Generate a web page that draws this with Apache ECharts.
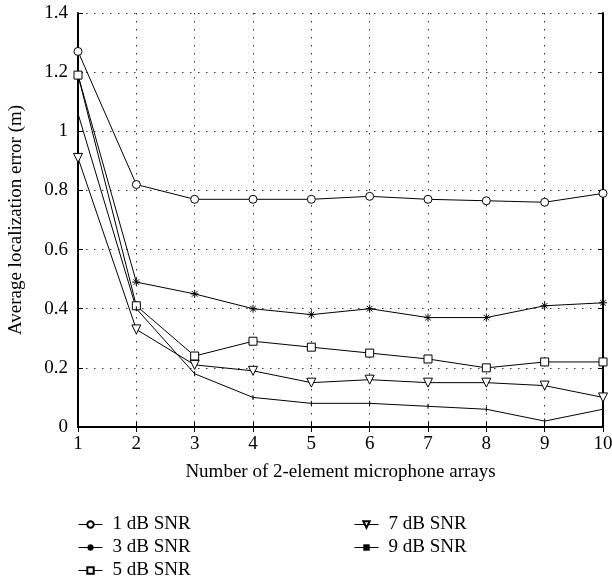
<!DOCTYPE html>
<html><head><meta charset="utf-8">
<script src="https://cdn.jsdelivr.net/npm/echarts@6/dist/echarts.min.js"></script>
<style>html,body{margin:0;padding:0;background:#fff}#c{width:612px;height:584px}</style>
</head><body><div id="c"></div>
<script>
const xValues = [1,2,3,4,5,6,7,8,9,10];
const seriesNames = ['1 dB SNR','3 dB SNR','5 dB SNR','7 dB SNR','9 dB SNR'];
const snr1 = [1.27,0.82,0.77,0.77,0.77,0.78,0.77,0.765,0.76,0.79];
const snr3 = [1.19,0.49,0.45,0.40,0.38,0.40,0.37,0.37,0.41,0.42];
const snr5 = [1.19,0.41,0.24,0.29,0.27,0.25,0.23,0.20,0.22,0.22];
const snr7 = [0.91,0.33,0.21,0.19,0.15,0.16,0.15,0.15,0.14,0.10];
const snr9 = [1.06,0.40,0.18,0.10,0.08,0.08,0.07,0.06,0.02,0.06];
const xTitle = 'Number of 2-element microphone arrays';
const yTitle = 'Average localization error (m)';

const FONT = 'Liberation Serif';
const FS = 19;
const asterisk = 'path://M5,0L5,10M0,5L10,5M1.5,1.5L8.5,8.5M1.5,8.5L8.5,1.5';
const pairs = a => a.map((v,i)=>[xValues[i], v]);
const mk = (name, data, symbol, size, extra) => Object.assign({
  name, type:'line', data: pairs(data), symbol, symbolSize:size,
  lineStyle:{color:'#000', width:1}, itemStyle:{color:'#fff', borderColor:'#000', borderWidth:1},
  emphasis:{disabled:true}, animation:false, z:3
}, extra||{});

const chart = echarts.init(document.getElementById('c'));
const axisCommon = {
  axisLine:{show:true, lineStyle:{color:'#000', width:2}},
  axisTick:{show:true, inside:true, length:5, lineStyle:{color:'#000'}},
  splitLine:{show:false}
};
const grid = {show:true, lineStyle:{color:'#333', type:[1.5,6.5], width:1}};
const legendCommon = {orient:'vertical', top:510, height:80, itemGap:4, itemWidth:24, itemHeight:8,
  lineStyle:{width:1}, textStyle:{fontFamily:FONT, fontSize:FS, color:'#000', padding:[0,0,0,5]}};
chart.setOption({
  backgroundColor:'#fff',
  textStyle:{fontFamily:FONT},
  grid:{left:78, right:9, top:13, bottom:157, show:false, containLabel:false, outerBoundsMode:'none'},
  xAxis:[
    Object.assign({type:'value', min:1, max:10, interval:1, position:'bottom',
      name:xTitle, nameLocation:'middle', nameGap:36,
      nameTextStyle:{fontFamily:FONT, fontSize:FS, color:'#000'},
      axisLabel:{fontFamily:FONT, fontSize:FS, color:'#000', margin:8},
      }, axisCommon, {splitLine:grid}),
    Object.assign({type:'value', min:1, max:10, interval:1, position:'top',
      axisLabel:{show:false}}, axisCommon)
  ],
  yAxis:[
    Object.assign({type:'value', min:0, max:1.4, interval:0.2, position:'left',
      name:yTitle, nameLocation:'middle', nameGap:52,
      nameTextStyle:{fontFamily:FONT, fontSize:FS, color:'#000'},
      axisLabel:{fontFamily:FONT, fontSize:FS, color:'#000', margin:10}
      }, axisCommon, {splitLine:grid}),
    Object.assign({type:'value', min:0, max:1.4, interval:0.2, position:'right',
      axisLabel:{show:false}}, axisCommon)
  ],
  legend:[
    Object.assign({data:seriesNames.slice(0,3), left:73}, legendCommon),
    Object.assign({data:seriesNames.slice(3), left:349}, legendCommon)
  ],
  series:[
    mk(seriesNames[0], snr1, 'circle', 8),
    mk(seriesNames[1], snr3, asterisk, 8, {itemStyle:{color:'#000', borderColor:'#000', borderWidth:1}}),
    mk(seriesNames[2], snr5, 'rect', 8),
    mk(seriesNames[3], snr7, 'path://M0,0L10,0L5,9Z', 9),
    mk(seriesNames[4], snr9, 'rect', [1,5], {itemStyle:{color:'#000', borderWidth:0}})
  ]
});
</script></body></html>
